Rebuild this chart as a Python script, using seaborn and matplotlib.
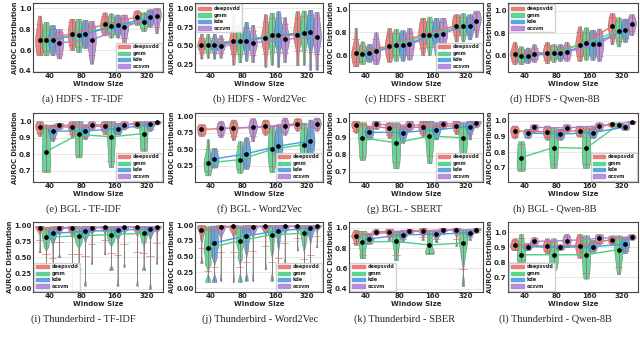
import pandas as pd
import matplotlib
matplotlib.use("Agg")
import matplotlib.pyplot as plt
from matplotlib.patches import Patch
from matplotlib.ticker import FormatStrFormatter
import seaborn as sns

WINDOWS = ["40", "80", "160", "320"]
MODELS = ["deepsvdd", "gmm", "kde", "ocsvm"]
PALETTE = {"deepsvdd": "#e8706a", "gmm": "#4ccf82", "kde": "#4a9be0", "ocsvm": "#b07fd6"}

# AUROC values per model, one list per window size (40, 80, 160, 320)
hdfs_tfidf = {
    "deepsvdd": [[0.55, 0.60, 0.66, 0.70, 0.74, 0.80, 0.93], [0.60, 0.68, 0.72, 0.755, 0.79, 0.84, 0.90],
                 [0.74, 0.79, 0.82, 0.845, 0.87, 0.90, 0.96], [0.84, 0.87, 0.90, 0.915, 0.93, 0.95, 0.98]],
    "gmm": [[0.55, 0.62, 0.67, 0.70, 0.74, 0.80, 0.87], [0.58, 0.66, 0.70, 0.74, 0.78, 0.84, 0.90],
            [0.72, 0.78, 0.81, 0.83, 0.86, 0.90, 0.95], [0.78, 0.83, 0.85, 0.87, 0.89, 0.93, 0.96]],
    "kde": [[0.55, 0.63, 0.67, 0.70, 0.73, 0.78, 0.84], [0.62, 0.69, 0.73, 0.755, 0.79, 0.84, 0.89],
            [0.72, 0.79, 0.82, 0.835, 0.86, 0.89, 0.94], [0.82, 0.87, 0.90, 0.915, 0.94, 0.96, 0.99]],
    "ocsvm": [[0.52, 0.59, 0.64, 0.67, 0.71, 0.75, 0.80], [0.47, 0.60, 0.66, 0.695, 0.74, 0.80, 0.88],
              [0.66, 0.75, 0.80, 0.82, 0.86, 0.89, 0.94], [0.76, 0.86, 0.90, 0.925, 0.95, 0.98, 1.00]],
}
hdfs_w2v = {
    "deepsvdd": [[0.33, 0.46, 0.49, 0.51, 0.53, 0.56, 0.66], [0.25, 0.48, 0.54, 0.565, 0.59, 0.66, 0.93],
                 [0.22, 0.50, 0.57, 0.60, 0.64, 0.74, 0.92], [0.24, 0.55, 0.62, 0.65, 0.70, 0.82, 0.96]],
    "gmm": [[0.34, 0.46, 0.49, 0.51, 0.53, 0.56, 0.66], [0.28, 0.46, 0.52, 0.56, 0.62, 0.70, 0.80],
            [0.25, 0.52, 0.59, 0.64, 0.70, 0.82, 0.94], [0.25, 0.57, 0.63, 0.67, 0.74, 0.84, 0.97]],
    "kde": [[0.33, 0.46, 0.49, 0.51, 0.53, 0.57, 0.66], [0.30, 0.48, 0.54, 0.57, 0.62, 0.68, 0.82],
            [0.22, 0.54, 0.60, 0.64, 0.70, 0.82, 0.96], [0.18, 0.58, 0.65, 0.68, 0.72, 0.86, 0.98]],
    "ocsvm": [[0.34, 0.45, 0.48, 0.50, 0.52, 0.56, 0.64], [0.28, 0.45, 0.51, 0.54, 0.58, 0.64, 0.78],
              [0.28, 0.48, 0.55, 0.585, 0.62, 0.72, 0.88], [0.18, 0.52, 0.58, 0.62, 0.68, 0.82, 0.95]],
}
hdfs_sbert = {
    "deepsvdd": [[0.50, 0.57, 0.59, 0.62, 0.64, 0.68, 0.84], [0.54, 0.61, 0.65, 0.68, 0.71, 0.75, 0.84],
                 [0.60, 0.71, 0.75, 0.78, 0.82, 0.86, 0.93], [0.72, 0.81, 0.84, 0.86, 0.89, 0.92, 0.96]],
    "gmm": [[0.52, 0.57, 0.59, 0.61, 0.63, 0.66, 0.72], [0.55, 0.63, 0.67, 0.69, 0.72, 0.77, 0.83],
            [0.60, 0.72, 0.76, 0.78, 0.81, 0.86, 0.94], [0.72, 0.81, 0.84, 0.86, 0.88, 0.92, 0.97]],
    "kde": [[0.54, 0.58, 0.60, 0.62, 0.63, 0.65, 0.70], [0.55, 0.63, 0.67, 0.69, 0.72, 0.76, 0.82],
            [0.60, 0.72, 0.76, 0.78, 0.82, 0.86, 0.93], [0.74, 0.81, 0.84, 0.86, 0.88, 0.91, 0.96]],
    "ocsvm": [[0.52, 0.58, 0.61, 0.635, 0.67, 0.71, 0.80], [0.56, 0.63, 0.67, 0.695, 0.72, 0.77, 0.84],
              [0.62, 0.73, 0.77, 0.79, 0.83, 0.87, 0.93], [0.76, 0.86, 0.89, 0.905, 0.93, 0.96, 0.99]],
}
hdfs_qwen = {
    "deepsvdd": [[0.52, 0.57, 0.60, 0.615, 0.63, 0.66, 0.72], [0.53, 0.58, 0.61, 0.625, 0.64, 0.67, 0.72],
                 [0.55, 0.63, 0.67, 0.69, 0.72, 0.77, 0.86], [0.70, 0.80, 0.84, 0.86, 0.88, 0.92, 0.98]],
    "gmm": [[0.52, 0.56, 0.58, 0.595, 0.61, 0.64, 0.68], [0.54, 0.59, 0.61, 0.625, 0.64, 0.67, 0.70],
            [0.56, 0.64, 0.68, 0.71, 0.74, 0.78, 0.85], [0.68, 0.76, 0.80, 0.82, 0.85, 0.88, 0.94]],
    "kde": [[0.53, 0.57, 0.58, 0.595, 0.61, 0.63, 0.67], [0.55, 0.59, 0.61, 0.625, 0.64, 0.66, 0.70],
            [0.56, 0.63, 0.67, 0.70, 0.73, 0.77, 0.83], [0.72, 0.78, 0.81, 0.83, 0.86, 0.89, 0.93]],
    "ocsvm": [[0.54, 0.58, 0.60, 0.615, 0.63, 0.65, 0.70], [0.55, 0.59, 0.61, 0.63, 0.65, 0.67, 0.72],
              [0.55, 0.63, 0.67, 0.70, 0.73, 0.77, 0.84], [0.78, 0.84, 0.87, 0.885, 0.90, 0.93, 0.97]],
}
bgl_tfidf = {
    "deepsvdd": [[0.91, 0.94, 0.955, 0.965, 0.975, 0.985, 1.00], [0.90, 0.94, 0.955, 0.965, 0.975, 0.985, 1.00],
                 [0.92, 0.95, 0.96, 0.97, 0.98, 0.99, 1.00], [0.96, 0.97, 0.98, 0.985, 0.99, 0.995, 1.00]],
    "gmm": [[0.69, 0.71, 0.75, 0.815, 0.88, 0.94, 0.98], [0.78, 0.80, 0.86, 0.92, 0.97, 0.99, 1.00],
            [0.72, 0.78, 0.85, 0.905, 0.96, 0.99, 1.00], [0.82, 0.84, 0.88, 0.925, 0.97, 0.99, 1.00]],
    "kde": [[0.88, 0.91, 0.93, 0.94, 0.95, 0.96, 0.98], [0.89, 0.92, 0.93, 0.94, 0.95, 0.96, 0.98],
            [0.92, 0.935, 0.945, 0.955, 0.965, 0.975, 0.99], [0.94, 0.96, 0.97, 0.98, 0.985, 0.99, 1.00]],
    "ocsvm": [[0.95, 0.96, 0.97, 0.975, 0.98, 0.985, 0.99], [0.95, 0.965, 0.972, 0.978, 0.984, 0.99, 1.00],
              [0.95, 0.965, 0.972, 0.978, 0.984, 0.99, 1.00], [0.98, 0.985, 0.99, 0.993, 0.996, 0.998, 1.00]],
}
bgl_w2v = {
    "deepsvdd": [[0.70, 0.74, 0.77, 0.80, 0.83, 0.86, 0.88], [0.64, 0.74, 0.79, 0.82, 0.85, 0.89, 0.95],
                 [0.72, 0.79, 0.82, 0.845, 0.87, 0.91, 0.95], [0.78, 0.84, 0.87, 0.885, 0.91, 0.94, 0.97]],
    "gmm": [[0.10, 0.20, 0.26, 0.29, 0.33, 0.40, 0.65], [0.14, 0.24, 0.30, 0.34, 0.40, 0.50, 0.62],
            [0.15, 0.30, 0.42, 0.495, 0.58, 0.70, 0.85], [0.25, 0.40, 0.50, 0.57, 0.66, 0.76, 0.90]],
    "kde": [[0.22, 0.27, 0.32, 0.35, 0.39, 0.45, 0.52], [0.20, 0.30, 0.38, 0.43, 0.48, 0.56, 0.68],
            [0.18, 0.38, 0.48, 0.545, 0.62, 0.72, 0.88], [0.30, 0.48, 0.58, 0.625, 0.67, 0.76, 0.95]],
    "ocsvm": [[0.68, 0.75, 0.79, 0.815, 0.84, 0.87, 0.93], [0.62, 0.75, 0.80, 0.83, 0.86, 0.90, 0.97],
              [0.72, 0.80, 0.83, 0.855, 0.88, 0.92, 0.98], [0.78, 0.84, 0.87, 0.885, 0.91, 0.94, 0.98]],
}
bgl_sbert = {
    "deepsvdd": [[0.93, 0.95, 0.965, 0.972, 0.98, 0.99, 1.00], [0.90, 0.93, 0.948, 0.957, 0.968, 0.98, 0.99],
                 [0.91, 0.94, 0.952, 0.962, 0.972, 0.985, 1.00], [0.92, 0.95, 0.963, 0.97, 0.98, 0.99, 1.00]],
    "gmm": [[0.77, 0.80, 0.86, 0.90, 0.95, 0.97, 0.99], [0.72, 0.78, 0.82, 0.87, 0.93, 0.97, 0.99],
            [0.75, 0.82, 0.87, 0.91, 0.96, 0.99, 1.00], [0.76, 0.82, 0.86, 0.90, 0.95, 0.98, 0.99]],
    "kde": [[0.89, 0.91, 0.925, 0.932, 0.94, 0.95, 0.97], [0.87, 0.90, 0.92, 0.93, 0.94, 0.95, 0.97],
            [0.89, 0.92, 0.94, 0.948, 0.958, 0.97, 0.99], [0.89, 0.94, 0.955, 0.965, 0.975, 0.985, 1.00]],
    "ocsvm": [[0.95, 0.965, 0.972, 0.978, 0.984, 0.99, 1.00], [0.94, 0.96, 0.967, 0.973, 0.98, 0.99, 1.00],
              [0.95, 0.968, 0.975, 0.98, 0.986, 0.993, 1.00], [0.96, 0.976, 0.982, 0.987, 0.992, 0.996, 1.00]],
}
bgl_qwen = {
    "deepsvdd": [[0.89, 0.91, 0.925, 0.935, 0.945, 0.955, 0.97], [0.88, 0.905, 0.92, 0.93, 0.94, 0.955, 0.97],
                 [0.90, 0.915, 0.927, 0.937, 0.947, 0.96, 0.97], [0.96, 0.968, 0.973, 0.978, 0.982, 0.987, 0.99]],
    "gmm": [[0.68, 0.70, 0.73, 0.765, 0.80, 0.84, 0.87], [0.70, 0.74, 0.79, 0.83, 0.88, 0.92, 0.96],
            [0.70, 0.74, 0.78, 0.825, 0.87, 0.92, 0.96], [0.96, 0.965, 0.97, 0.975, 0.98, 0.985, 0.99]],
    "kde": [[0.89, 0.905, 0.915, 0.923, 0.93, 0.94, 0.95], [0.88, 0.895, 0.907, 0.915, 0.923, 0.935, 0.95],
            [0.89, 0.905, 0.917, 0.925, 0.933, 0.945, 0.96], [0.94, 0.948, 0.955, 0.96, 0.965, 0.972, 0.98]],
    "ocsvm": [[0.93, 0.945, 0.952, 0.958, 0.964, 0.97, 0.98], [0.93, 0.94, 0.948, 0.955, 0.962, 0.97, 0.98],
              [0.94, 0.955, 0.962, 0.968, 0.975, 0.982, 0.99], [0.98, 0.985, 0.989, 0.992, 0.995, 0.998, 1.00]],
}
tb_tfidf = {
    "deepsvdd": [[0.58, 0.90, 0.94, 0.96, 0.98, 0.99, 1.00], [0.02, 0.90, 0.95, 0.97, 0.98, 0.99, 1.00],
                 [0.55, 0.92, 0.96, 0.975, 0.985, 0.99, 1.00], [0.05, 0.94, 0.97, 0.98, 0.99, 1.00, 1.00]],
    "gmm": [[0.35, 0.68, 0.76, 0.82, 0.86, 0.92, 0.98], [0.30, 0.72, 0.79, 0.84, 0.89, 0.94, 0.99],
            [0.30, 0.75, 0.81, 0.86, 0.90, 0.95, 0.99], [0.30, 0.76, 0.83, 0.88, 0.92, 0.96, 1.00]],
    "kde": [[0.05, 0.78, 0.85, 0.88, 0.92, 0.96, 0.99], [0.05, 0.84, 0.88, 0.91, 0.94, 0.97, 1.00],
            [0.05, 0.86, 0.90, 0.93, 0.96, 0.98, 1.00], [0.00, 0.88, 0.92, 0.95, 0.97, 0.99, 1.00]],
    "ocsvm": [[0.50, 0.90, 0.94, 0.96, 0.98, 0.99, 1.00], [0.40, 0.92, 0.95, 0.97, 0.98, 0.99, 1.00],
              [0.35, 0.94, 0.96, 0.98, 0.99, 1.00, 1.00], [0.40, 0.95, 0.97, 0.985, 0.99, 1.00, 1.00]],
}
tb_w2v = {
    "deepsvdd": [[0.40, 0.80, 0.88, 0.93, 0.96, 0.98, 1.00], [0.10, 0.90, 0.95, 0.98, 0.99, 1.00, 1.00],
                 [0.30, 0.92, 0.96, 0.98, 0.99, 1.00, 1.00], [0.60, 0.94, 0.97, 0.98, 0.99, 1.00, 1.00]],
    "gmm": [[0.10, 0.40, 0.55, 0.64, 0.75, 0.88, 0.98], [0.10, 0.50, 0.66, 0.75, 0.84, 0.93, 0.99],
            [0.12, 0.62, 0.76, 0.85, 0.91, 0.96, 1.00], [0.10, 0.70, 0.80, 0.87, 0.92, 0.96, 1.00]],
    "kde": [[0.10, 0.50, 0.64, 0.72, 0.82, 0.92, 0.99], [0.12, 0.62, 0.75, 0.83, 0.90, 0.96, 1.00],
            [0.10, 0.72, 0.85, 0.91, 0.95, 0.98, 1.00], [0.10, 0.82, 0.90, 0.95, 0.97, 0.99, 1.00]],
    "ocsvm": [[0.12, 0.88, 0.94, 0.97, 0.99, 1.00, 1.00], [0.12, 0.90, 0.95, 0.975, 0.99, 1.00, 1.00],
              [0.40, 0.93, 0.96, 0.98, 0.99, 1.00, 1.00], [0.65, 0.94, 0.97, 0.985, 0.99, 1.00, 1.00]],
}
tb_sbert = {
    "deepsvdd": [[0.83, 0.87, 0.90, 0.915, 0.93, 0.95, 0.98], [0.88, 0.92, 0.945, 0.955, 0.965, 0.98, 0.99],
                 [0.88, 0.93, 0.955, 0.965, 0.975, 0.985, 1.00], [0.82, 0.94, 0.97, 0.98, 0.985, 0.99, 1.00]],
    "gmm": [[0.70, 0.76, 0.82, 0.86, 0.90, 0.94, 0.97], [0.68, 0.76, 0.82, 0.865, 0.90, 0.93, 0.96],
            [0.74, 0.76, 0.78, 0.83, 0.88, 0.93, 0.97], [0.43, 0.70, 0.80, 0.85, 0.90, 0.94, 0.98]],
    "kde": [[0.84, 0.86, 0.88, 0.89, 0.90, 0.92, 0.95], [0.86, 0.90, 0.92, 0.93, 0.94, 0.96, 0.98],
            [0.86, 0.90, 0.925, 0.935, 0.945, 0.96, 0.98], [0.88, 0.92, 0.94, 0.95, 0.96, 0.97, 0.99]],
    "ocsvm": [[0.93, 0.945, 0.955, 0.96, 0.965, 0.975, 0.99], [0.94, 0.955, 0.962, 0.967, 0.972, 0.98, 0.99],
              [0.94, 0.96, 0.97, 0.975, 0.98, 0.99, 1.00], [0.95, 0.965, 0.975, 0.98, 0.985, 0.99, 1.00]],
}
tb_qwen = {
    "deepsvdd": [[0.88, 0.895, 0.905, 0.915, 0.925, 0.94, 0.96], [0.86, 0.885, 0.90, 0.908, 0.918, 0.935, 0.96],
                 [0.83, 0.87, 0.895, 0.912, 0.93, 0.955, 0.99], [0.92, 0.935, 0.945, 0.952, 0.96, 0.968, 0.98]],
    "gmm": [[0.80, 0.82, 0.84, 0.85, 0.90, 0.94, 0.99], [0.75, 0.79, 0.81, 0.85, 0.88, 0.92, 0.96],
            [0.69, 0.75, 0.80, 0.85, 0.90, 0.94, 0.98], [0.72, 0.80, 0.85, 0.885, 0.92, 0.95, 0.98]],
    "kde": [[0.88, 0.89, 0.90, 0.905, 0.91, 0.92, 0.93], [0.88, 0.89, 0.895, 0.90, 0.905, 0.91, 0.92],
            [0.87, 0.885, 0.897, 0.905, 0.915, 0.93, 0.95], [0.86, 0.89, 0.91, 0.92, 0.93, 0.945, 0.97]],
    "ocsvm": [[0.92, 0.93, 0.935, 0.94, 0.945, 0.955, 0.97], [0.90, 0.925, 0.937, 0.945, 0.955, 0.97, 0.99],
              [0.92, 0.94, 0.953, 0.96, 0.968, 0.98, 0.99], [0.95, 0.96, 0.966, 0.97, 0.975, 0.982, 0.99]],
}

# (data, caption, ylim, yticks, tick format, legend position, kde bandwidth adjust)
PANELS = [
    (hdfs_tfidf, "(a) HDFS - TF-IDF", (0.39, 1.05), [0.4, 0.6, 0.8, 1.0], "%.1f", "lower right", 1.0),
    (hdfs_w2v, "(b) HDFS - Word2Vec", (0.15, 1.07), [0.25, 0.5, 0.75, 1.0], "%.2f", "upper left", 0.8),
    (hdfs_sbert, "(c) HDFS - SBERT", (0.45, 1.06), [0.6, 0.8, 1.0], "%.1f", "lower right", 1.0),
    (hdfs_qwen, "(d) HDFS - Qwen-8B", (0.45, 1.07), [0.6, 0.8, 1.0], "%.1f", "upper left", 1.0),
    (bgl_tfidf, "(e) BGL - TF-IDF", (0.63, 1.05), [0.7, 0.8, 0.9, 1.0], "%.1f", "lower right", 1.0),
    (bgl_w2v, "(f) BGL - Word2Vec", (0.0, 1.05), [0.25, 0.5, 0.75, 1.0], "%.2f", "lower right", 1.0),
    (bgl_sbert, "(g) BGL - SBERT", (0.64, 1.045), [0.7, 0.8, 0.9, 1.0], "%.1f", "lower right", 1.0),
    (bgl_qwen, "(h) BGL - Qwen-8B", (0.61, 1.05), [0.7, 0.8, 0.9, 1.0], "%.1f", "lower right", 1.0),
    (tb_tfidf, "(i) Thunderbird - TF-IDF", (-0.05, 1.06), [0.0, 0.25, 0.5, 0.75, 1.0], "%.2f", "lower left", 0.25),
    (tb_w2v, "(j) Thunderbird - Word2Vec", (-0.06, 1.05), [0.0, 0.25, 0.5, 0.75, 1.0], "%.2f", "lower right", 0.3),
    (tb_sbert, "(k) Thunderbird - SBER", (0.37, 1.055), [0.4, 0.6, 0.8, 1.0], "%.1f", "lower left", 0.5),
    (tb_qwen, "(l) Thunderbird - Qwen-8B", (0.6, 1.07), [0.7, 0.8, 0.9, 1.0], "%.1f", "lower left", 1.0),
]

# layout in pixels: (left, width) per column, (top, height) per row
COLS = [(33, 130), (195, 128), (349, 134), (508, 130)]
ROWS = [(3, 69), (113, 69), (222, 70)]
CAP_X = [83, 260, 405, 555]
CAP_Y = [99, 209, 319]
W, H = 640, 340


def to_frame(data):
    rows = []
    for m in MODELS:
        for w, vals in zip(WINDOWS, data[m]):
            for v in vals:
                rows.append({"window": w, "model": m, "auroc": v})
    return pd.DataFrame(rows)


def draw_panel(ax, data, ylim, yticks, fmt, loc, bw):
    df = to_frame(data)
    common = dict(data=df, x="window", y="auroc", hue="model", order=WINDOWS,
                  hue_order=MODELS, ax=ax, legend=False)
    # negative gap -> violins a bit wider than their dodge slot (they overlap like the original)
    sns.violinplot(**common, palette=PALETTE, cut=0, inner=None, density_norm="width",
                   width=0.8, gap=-0.35, linewidth=0.3, bw_adjust=bw, saturation=1, alpha=0.85)
    # red caps (10-90 percentile), vertical part hidden under the gray range line
    sns.pointplot(**common, palette={m: "#e36b6b" for m in MODELS}, estimator="median",
                  errorbar=("pi", 80), dodge=0.6, capsize=0.22, marker="", linestyle="none",
                  err_kws={"linewidth": 0.6, "alpha": 0.75})
    # gray whisker: full range
    sns.pointplot(**common, palette={m: "#808080" for m in MODELS}, estimator="median",
                  errorbar=("pi", 100), dodge=0.6, marker="", linestyle="none",
                  err_kws={"linewidth": 0.6})
    # median lines
    sns.pointplot(**common, palette=PALETTE, estimator="median", errorbar=None, dodge=0.6,
                  marker="", linewidth=1.0)
    sns.pointplot(**common, palette={m: "black" for m in MODELS}, estimator="median",
                  errorbar=None, dodge=0.6, marker="o", markersize=1.4, linestyle="none")

    ax.set_ylim(*ylim)
    ax.set_yticks(yticks)
    ax.yaxis.set_major_formatter(FormatStrFormatter(fmt))
    ax.set_xlabel("Window Size", fontsize=5, fontweight="bold", labelpad=1)
    ax.set_ylabel("AUROC Distribution", fontsize=4.8, fontweight="bold", labelpad=1)
    ax.tick_params(labelsize=5, pad=1, length=0)
    for lab in ax.get_xticklabels() + ax.get_yticklabels():
        lab.set_fontweight("bold")
    for s in ax.spines.values():
        s.set_color("#444444")
        s.set_linewidth(0.8)
    ax.grid(axis="y", color="#dddddd", linewidth=0.5)
    handles = [Patch(facecolor=PALETTE[m], edgecolor=PALETTE[m], alpha=0.85, label=m) for m in MODELS]
    ax.legend(handles=handles, loc=loc, prop={"size": 3.5, "weight": "bold"}, handlelength=2.6,
              handleheight=0.7, handletextpad=0.6, labelspacing=0.3, borderpad=0.35,
              borderaxespad=0.3, frameon=True, framealpha=0.9, edgecolor="#cccccc")


sns.set_theme(style="whitegrid")
plt.rcParams["font.family"] = ["DejaVu Sans"]

fig = plt.figure(figsize=(6.4, 3.4), dpi=100)
for i, (data, caption, ylim, yticks, fmt, loc, bw) in enumerate(PANELS):
    r, c = divmod(i, 4)
    left, width = COLS[c]
    top, height = ROWS[r]
    ax = fig.add_axes([left / W, 1 - (top + height) / H, width / W, height / H])
    draw_panel(ax, data, ylim, yticks, fmt, loc, bw)
    fig.text(CAP_X[c] / W, 1 - CAP_Y[r] / H, caption, ha="center", va="center",
             family="Liberation Serif", fontsize=7.5)

fig.savefig("out.png", dpi=100)
